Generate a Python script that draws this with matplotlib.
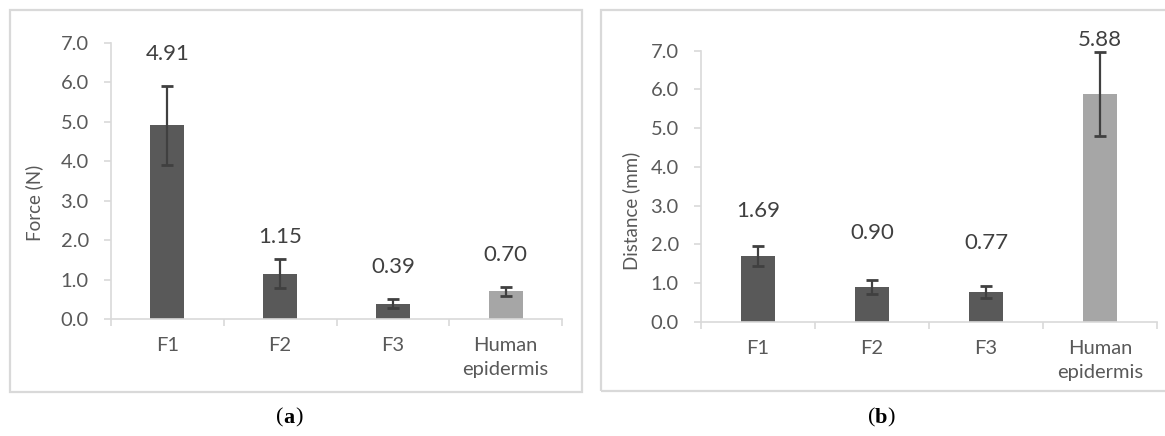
import matplotlib
matplotlib.use("Agg")
import matplotlib.pyplot as plt
from matplotlib.patches import Rectangle
import numpy as np

# Data
categories = ["F1", "F2", "F3", "Human\nepidermis"]
force = [4.91, 1.15, 0.39, 0.70]
force_err = [1.00, 0.36, 0.11, 0.12]
distance = [1.69, 0.90, 0.77, 5.88]
distance_err = [0.26, 0.19, 0.15, 1.08]
y_ticks = [0.0, 1.0, 2.0, 3.0, 4.0, 5.0, 6.0, 7.0]

# Layout: vertical placement of value labels above each error bar (data units)
force_label_lift = [0.80, 0.56, 0.82, 0.80]
distance_label_lift = [0.91, 1.19, 1.12, 0.32]

DARK = "#595959"
LIGHT = "#a6a6a6"
ERR = "#404040"
AXIS = "#d9d9d9"
TEXT = "#595959"
FONT = ["Lato", "DejaVu Sans"]

plt.rcParams["font.family"] = FONT

W, H = 1165, 436
fig = plt.figure(figsize=(W / 100, H / 100), dpi=100)


def px_rect(x0, y0, x1, y1):
    """Convert a pixel box (top-left origin) to figure fraction."""
    return [x0 / W, 1 - y1 / H, (x1 - x0) / W, (y1 - y0) / H]


# Panel frames
for (x0, y0, x1, y1) in [(10, 10, 582, 392), (601, 10, 1170, 391)]:
    fig.patches.append(Rectangle((x0 / W, 1 - y1 / H), (x1 - x0) / W, (y1 - y0) / H,
                                 transform=fig.transFigure, fill=False,
                                 edgecolor=AXIS, linewidth=1.6, zorder=0))


def panel(rect, values, errs, lifts, ylabel, ylabel_pos):
    ax = fig.add_axes(rect)
    x = np.arange(len(categories))
    colors = [DARK, DARK, DARK, LIGHT]
    ax.bar(x, values, width=0.3, color=colors, zorder=2)
    ax.errorbar(x, values, yerr=errs, fmt="none", ecolor=ERR, elinewidth=1.6,
                capsize=4, capthick=2.0, zorder=3)
    for xi, v, e, lift in zip(x, values, errs, lifts):
        ax.text(xi, v + e + lift, f"{v:.2f}", ha="center", va="center",
                fontsize=16, color="#404040", clip_on=False)
    ax.set_xlim(-0.5, len(categories) - 0.5)
    ax.set_ylim(0, 7.0)
    ax.set_yticks(y_ticks)
    ax.set_yticklabels([f"{t:.1f}" for t in y_ticks])
    ax.set_xticks(x)
    ax.set_xticklabels(categories, linespacing=1.5)
    ax.set_xticks(np.arange(len(categories) + 1) - 0.5, minor=True)
    ax.tick_params(axis="x", which="major", length=0, pad=13, labelsize=14.5,
                   labelcolor=TEXT)
    ax.tick_params(axis="x", which="minor", length=5, width=1.2, color=AXIS)
    ax.tick_params(axis="y", length=5, width=1.2, color=AXIS, pad=11,
                   labelsize=14.5, labelcolor=TEXT)
    for s in ("top", "right"):
        ax.spines[s].set_visible(False)
    for s in ("left", "bottom"):
        ax.spines[s].set_color(AXIS)
        ax.spines[s].set_linewidth(1.2)
    ax.set_ylabel(ylabel, fontsize=13.5, color=TEXT)
    ax.yaxis.set_label_coords(ylabel_pos[0], ylabel_pos[1])
    ax.patch.set_alpha(0)
    return ax


ax1 = panel(px_rect(111, 42.7, 562, 319), force, force_err, force_label_lift,
            "Force (N)", (-0.151, 0.42))
ax2 = panel(px_rect(701, 50.7, 1157, 321.7), distance, distance_err,
            distance_label_lift, "Distance (mm)", (-0.134, 0.41))

# Panel captions
for cx, letter in [(289, "a"), (881, "b")]:
    fy = 1 - 418 / H
    fig.text(cx / W, fy, letter, ha="center", va="center", fontsize=16,
             fontweight="bold", family="Liberation Serif", color="black")
    fig.text(cx / W - 6 / W, fy, "(", ha="right", va="center", fontsize=16,
             family="Liberation Serif", color="black")
    fig.text(cx / W + 6 / W, fy, ")", ha="left", va="center", fontsize=16,
             family="Liberation Serif", color="black")

fig.savefig("out.png", dpi=100)
